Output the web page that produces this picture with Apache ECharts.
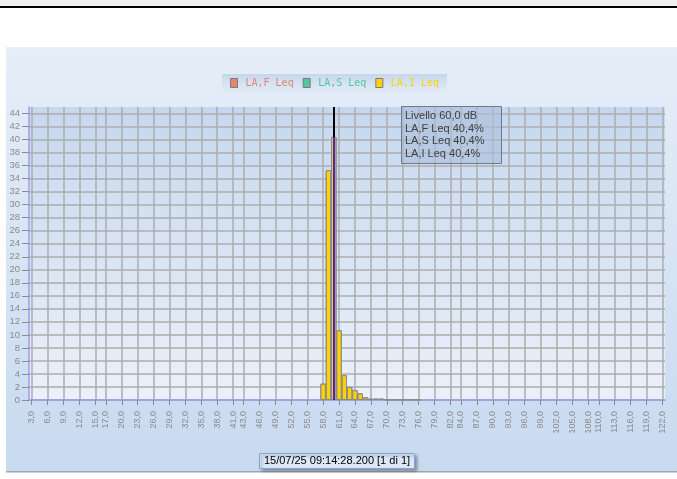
<!DOCTYPE html>
<html>
<head>
<meta charset="utf-8">
<script src="https://cdn.jsdelivr.net/npm/echarts@6/dist/echarts.min.js"></script>
<style>
  html, body { margin: 0; padding: 0; background: #fff; }
  #chart { width: 677px; height: 479px; }
</style>
</head>
<body>
<div id="chart"></div>
<script>
// livelli (dB), un bin per dB
const levels = [58, 59, 60, 61, 62, 63, 64, 65, 66, 67, 68, 69, 70, 71, 72, 73, 74, 75, 76];
// percentuali per serie
const lafLeq = [2.5, 35.3, 40.4, 10.7, 3.8, 2.0, 1.5, 1.0, 0.4, 0.2, 0.2, 0.2, 0.1, 0.1, 0.1, 0.1, 0.1, 0.1, 0.1];
const lasLeq = [2.5, 35.3, 40.4, 10.7, 3.8, 2.0, 1.5, 1.0, 0.4, 0.2, 0.2, 0.2, 0.1, 0.1, 0.1, 0.1, 0.1, 0.1, 0.1];
const laiLeq = [2.5, 35.3, 40.4, 10.7, 3.8, 2.0, 1.5, 1.0, 0.4, 0.2, 0.2, 0.2, 0.1, 0.1, 0.1, 0.1, 0.1, 0.1, 0.1];

const seriesNames = ['LA,F Leq', 'LA,S Leq', 'LA,I Leq'];
const seriesColors = ['#e8836f', '#52c79c', '#ffd200'];

// etichette asse x
const xTicks = [3, 6, 9, 12, 15, 17, 20, 23, 26, 29, 32, 35, 38, 41, 43, 46, 49, 52, 55, 58,
  61, 64, 67, 70, 73, 76, 79, 82, 84, 87, 90, 93, 96, 99, 102, 105, 108, 110, 113, 116, 119, 122];
const yTicks = [0, 2, 4, 6, 8, 10, 12, 14, 16, 18, 20, 22, 24, 26, 28, 30, 32, 34, 36, 38, 40, 42, 44];

const cursorLevel = 60;
const timestamp = '15/07/25 09:14:28.200 [1 di 1]';

const fmt = v => v.toFixed(1).replace('.', ',');

const chart = echarts.init(document.getElementById('chart'));

const allData = [lafLeq, lasLeq, laiLeq];
const ci = levels.indexOf(cursorLevel);
const tipLines = ['Livello ' + fmt(cursorLevel) + ' dB']
  .concat(seriesNames.map((n, i) => n + ' ' + fmt(allData[i][ci]) + '%'));

const series = seriesNames.map((name, i) => ({
  name: name,
  type: 'bar',
  data: levels.map((l, j) => [l, allData[i][j]]),
  barGap: '-100%',
  barWidth: 5.3,
  itemStyle: { color: seriesColors[i], borderColor: '#8a8a8a', borderWidth: 1 },
  emphasis: { disabled: true },
  silent: true
}));

// cursore
series[2].markLine = {
  silent: true,
  symbol: 'none',
  label: { show: false },
  data: [
    [{ coord: [cursorLevel, 0], lineStyle: { color: '#4b1ee6', width: 2, type: 'solid' } },
     { coord: [cursorLevel, laiLeq[ci]] }],
    [{ coord: [cursorLevel, laiLeq[ci]], lineStyle: { color: '#000', width: 2, type: 'solid' } },
     { coord: [cursorLevel, 45] }]
  ]
};

const option = {
  animation: false,
  backgroundColor: '#ffffff',
  textStyle: { fontFamily: 'Liberation Sans' },
  legend: {
    left: 222,
    top: 74,
    padding: [4, 8, 4, 8],
    itemGap: 9,
    itemWidth: 7,
    itemHeight: 9,
    icon: 'rect',
    backgroundColor: new echarts.graphic.LinearGradient(0, 0, 0, 1, [
      { offset: 0, color: 'rgba(196,213,236,0.95)' },
      { offset: 1, color: 'rgba(222,232,246,0.6)' }
    ]),
    itemStyle: { borderColor: '#7a7a7a', borderWidth: 1 },
    data: seriesNames.map((n, i) => ({
      name: n,
      textStyle: { color: seriesColors[i] }
    })),
    textStyle: { fontFamily: 'DejaVu Sans Mono', fontSize: 10, padding: [0, 0, 0, 3] },
    selectedMode: false
  },
  grid: {
    left: 29,
    top: 107,
    width: 636,
    height: 293,
    show: true,
    borderWidth: 0,
    backgroundColor: new echarts.graphic.LinearGradient(0, 0, 0, 1, [
      { offset: 0, color: '#c6d8ef' },
      { offset: 1, color: '#ebf1fa' }
    ])
  },
  xAxis: {
    type: 'value',
    min: 2.5,
    max: 122.5,
    axisLine: { onZero: false, lineStyle: { color: '#9c9cf0', width: 1.5 } },
    axisTick: { customValues: xTicks, length: 5, lineStyle: { color: '#8c8c8c' } },
    axisLabel: {
      customValues: xTicks,
      rotate: 90,
      margin: 11,
      fontSize: 9,
      color: '#8a8a8a',
      formatter: v => fmt(v)
    },
    splitLine: { show: true, lineStyle: { color: '#adadad', width: 1.5 } }
  },
  yAxis: {
    type: 'value',
    min: 0,
    max: 45,
    axisLine: { show: true, onZero: false, lineStyle: { color: '#9c9cf0', width: 1.5 } },
    axisTick: { show: true, customValues: yTicks, length: 7, lineStyle: { color: '#8c8c8c' } },
    axisLabel: { customValues: yTicks, fontSize: 9.5, color: '#8a8a8a', margin: 9 },
    splitLine: { show: true, lineStyle: { color: '#adadad', width: 1.5 } }
  },
  graphic: [
    { type: 'rect', z: -10, shape: { x: 0, y: 0, width: 677, height: 6 }, style: { fill: '#f0f0f0' } },
    { type: 'rect', z: -10, shape: { x: 0, y: 6, width: 677, height: 2 }, style: { fill: '#000' } },
    {
      type: 'rect', z: -10,
      shape: { x: 6, y: 47, width: 671, height: 424 },
      style: {
        fill: new echarts.graphic.LinearGradient(0, 0, 0, 1, [
          { offset: 0, color: '#e6eef8' },
          { offset: 1, color: '#c8daf0' }
        ])
      }
    },
    { type: 'rect', z: -10, shape: { x: 6, y: 471, width: 671, height: 1.5 }, style: { fill: '#a3a3a3' } },
    // riquadro info cursore
    {
      type: 'rect', z: 100,
      shape: { x: 401.5, y: 106.5, width: 100, height: 57 },
      style: { fill: 'rgba(170,190,218,0.6)', stroke: '#6f7a8a', lineWidth: 1 }
    },
    {
      type: 'text', z: 101,
      x: 405, y: 110,
      style: {
        text: tipLines.join('\n'),
        fontFamily: 'Liberation Sans',
        fontSize: 11,
        lineHeight: 12.5,
        fill: '#404040'
      }
    },
    // data/ora
    {
      type: 'rect', z: 100,
      shape: { x: 259.5, y: 453.5, width: 155, height: 15 },
      style: {
        fill: '#dce8f7', stroke: '#7fa7d9', lineWidth: 1,
        shadowBlur: 3, shadowOffsetX: 2, shadowOffsetY: 2, shadowColor: 'rgba(0,0,0,0.35)'
      }
    },
    {
      type: 'text', z: 101,
      x: 337, y: 461,
      style: {
        text: timestamp,
        fontFamily: 'Liberation Sans',
        fontSize: 11,
        fill: '#000',
        align: 'center',
        verticalAlign: 'middle'
      }
    }
  ],
  series: series
};

chart.setOption(option);
window.addEventListener('resize', () => chart.resize());
</script>
</body>
</html>
